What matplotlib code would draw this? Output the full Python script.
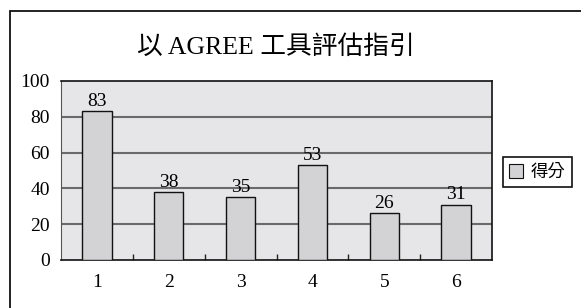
import matplotlib
matplotlib.use('Agg')
from matplotlib import pyplot as plt
from matplotlib.patches import Rectangle, Patch

plt.rcParams['font.family'] = ['Liberation Serif', 'Noto Sans CJK TC']

# data
categories = ['1', '2', '3', '4', '5', '6']
scores = [83, 38, 35, 53, 26, 31]
yticks = [0, 20, 40, 60, 80, 100]
title = '以 AGREE 工具評估指引'
series_name = '得分'

W, H = 581, 308
fig = plt.figure(figsize=(W / 100, H / 100), dpi=100)

# outer frame (runs off the right and bottom edge like the scan)
fig.patches.append(Rectangle((9.5 / W, -0.1), 1.2, 1 - 10.5 / H + 0.1,
                             transform=fig.transFigure, fill=False,
                             edgecolor='#111111', linewidth=1.3))

ax = fig.add_axes([61 / W, (H - 260) / H, 431 / W, 179 / H])
ax.set_facecolor('#e6e6e8')

x = list(range(1, len(categories) + 1))
ax.bar(x, scores, width=0.41, color='#d3d3d5', edgecolor='#111111', linewidth=1.0, zorder=3)
for xi, v in zip(x, scores):
	ax.text(xi, v + 0.8, str(v), ha='center', va='bottom', fontsize=14, zorder=4)

ax.set_xlim(0.5, len(categories) + 0.5)
ax.set_ylim(0, 100)
ax.set_yticks(yticks)
ax.set_yticklabels([str(t) for t in yticks], fontsize=14)
ax.set_xticks(x)
ax.set_xticklabels(categories, fontsize=14)
ax.set_xticks([i + 0.5 for i in x[:-1]], minor=True)
ax.tick_params(axis='x', which='major', length=0, pad=10)
ax.tick_params(axis='x', which='minor', direction='in', length=4, width=1, color='#222222')
ax.tick_params(axis='y', length=0, pad=8)

for g in yticks[1:-1]:
	ax.axhline(g, color='#6a6a6a', linewidth=1.5, zorder=2)

for s in ['top', 'right', 'bottom']:
	ax.spines[s].set_color('#111111')
	ax.spines[s].set_linewidth(1.2)
ax.spines['left'].set_color('#555555')
ax.spines['left'].set_linewidth(0.8)

fig.text(276 / W, 1 - 47 / H, title, ha='center', va='center', fontsize=18.5)

handle = Patch(facecolor='#d3d3d5', edgecolor='#111111', linewidth=0.8)
leg = ax.legend([handle], [series_name], loc='upper left',
                bbox_to_anchor=(503 / W, 1 - 157 / H), bbox_transform=fig.transFigure,
                borderaxespad=0, fancybox=False, edgecolor='#111111', framealpha=1,
                prop={'family': ['Noto Sans CJK TC'], 'size': 12.5},
                handlelength=0.8, handleheight=0.8, handletextpad=0.45,
                borderpad=0.35)
leg.get_frame().set_linewidth(1.2)

fig.savefig('out.png', dpi=100)
